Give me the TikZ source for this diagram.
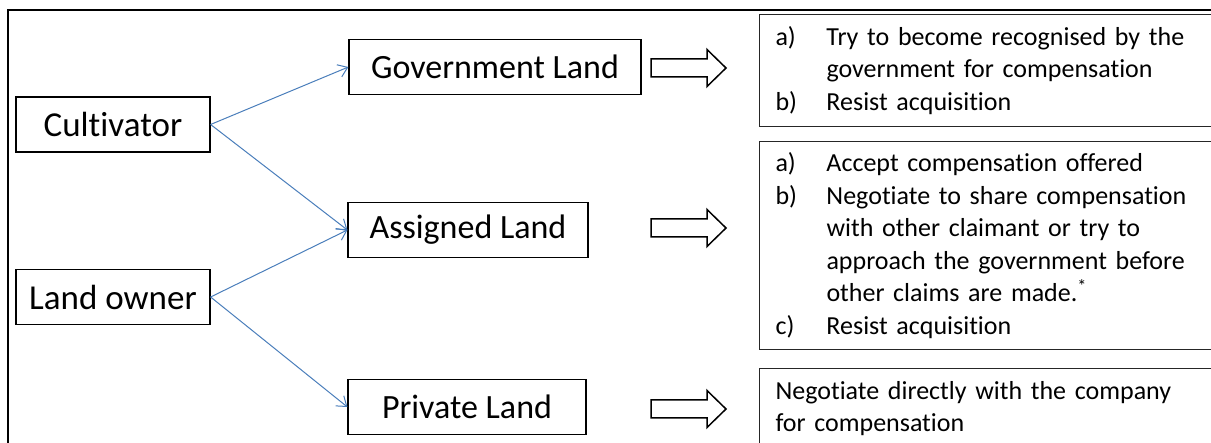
\documentclass[tikz,border=0pt]{standalone}
\usepackage{fontspec}
\setmainfont{Carlito}[Ligatures=NoCommon]
\usepackage{xcolor}
\usetikzlibrary{arrows.meta}

\definecolor{linkblue}{HTML}{4A7EBB}
\newcommand{\optlabel}[1]{\makebox[51pt][l]{#1}}

\tikzset{
  party/.style={draw, line width=1.2pt, minimum width=194pt, minimum height=55pt,
    inner sep=0pt, font=\fontsize{35}{42}\selectfont},
  land/.style={draw, line width=1.2pt, minimum height=55pt,
    inner sep=0pt, font=\fontsize{34}{40}\selectfont},
  option/.style={draw=black!85, line width=1pt, anchor=north west, align=left,
    text width=440pt, inner xsep=16pt, inner ysep=0pt,
    font=\fontsize{26}{32.5}\selectfont},
  link/.style={draw=linkblue, line width=1pt, -{Straight Barb[length=9pt,width=13pt]}}
}

\begin{document}
\begin{tikzpicture}[x=1pt,y=-1pt]
\useasboundingbox (0,0) rectangle (1211,443);
\clip (0,0) rectangle (1211,443);

% outer frame
\draw[line width=2pt] (8,460) |- (1230,10);

\node[party] (cult) at (113,124.5) {Cultivator};
\node[party] (owner) at (113,297) {Land owner};

\node[land, minimum width=292pt] (gov) at (495,67) {Government Land};
\node[land, minimum width=240pt] (asg) at (468,230) {Assigned Land};
\node[land, minimum width=238pt] (prv) at (467,407) {Private Land};

\draw[link] (cult.east) -- (gov.west);
\draw[link] (cult.east) -- (asg.west);
\draw[link] (owner.east) -- (asg.west);
\draw[link] (owner.east) -- (prv.west);

\foreach \y in {68,228,409} {
\draw[line width=1.5pt] (651,\y-9) -- (707,\y-9) -- (707,\y-18.5) -- (726,\y)
  -- (707,\y+18.5) -- (707,\y+9) -- (651,\y+9) -- cycle; }

\node[option, minimum height=112pt] (govopt) at (759,14)
  {\optlabel{a)}Try to become recognised by the\\
   \optlabel{}government for compensation\\
   \optlabel{b)}Resist acquisition};
\node[option, minimum height=208pt] (asgopt) at (759,141)
  {\optlabel{a)}Accept compensation offered\\
   \optlabel{b)}Negotiate to share compensation\\
   \optlabel{}with other claimant or try to\\
   \optlabel{}approach the government before\\
   \optlabel{}other claims are made.\textsuperscript{*}\\
   \optlabel{c)}Resist acquisition};
\node[option, minimum height=80pt] (prvopt) at (759,368)
  {Negotiate directly with the company\\
   for compensation};
\end{tikzpicture}
\end{document}
